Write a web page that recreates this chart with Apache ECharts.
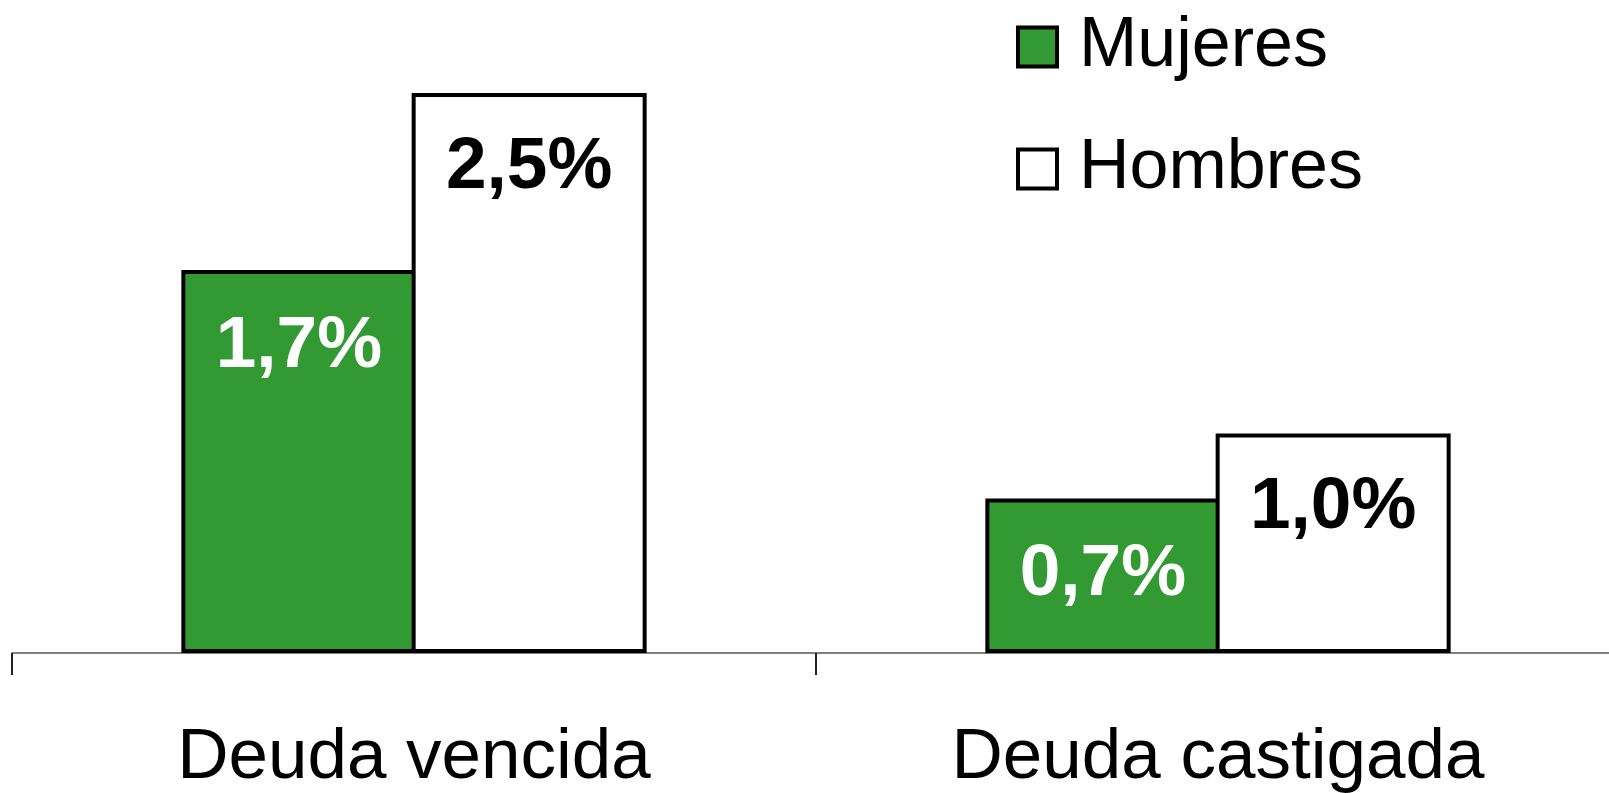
<!DOCTYPE html>
<html>
<head>
<meta charset="utf-8">
<script src="https://cdn.jsdelivr.net/npm/echarts@6/dist/echarts.min.js"></script>
<style>
  html, body { margin: 0; padding: 0; background: #fff; }
  #chart { width: 1609px; height: 793px; }
</style>
</head>
<body>
<div id="chart"></div>
<script>
// categorías y valores (%)
var categorias = ['Deuda vencida', 'Deuda castigada']
var mujeres = [1.71, 0.69]
var hombres = [2.5, 0.98]

var fuente = '"Liberation Sans", Arial, sans-serif'

function etiqueta (p) {
  return p.value.toFixed(1).replace('.', ',') + '%'
}

var myChart = echarts.init(document.getElementById('chart'))
myChart.setOption({
  animation: false,
  // el eje sigue más allá del borde derecho
  grid: { left: 12, width: 1608, top: 93, bottom: 140, outerBoundsMode: 'none' },
  legend: {
    orient: 'vertical',
    left: 1016,
    top: 12,
    padding: 0,
    itemWidth: 39,
    itemHeight: 39,
    itemGap: 52,
    icon: 'rect',
    itemStyle: { borderColor: '#000', borderWidth: 4 },
    textStyle: {
      fontFamily: fuente,
      fontSize: 70,
      color: '#000',
      lineHeight: 40,
      padding: [0, 0, 28, 17]
    },
    data: ['Mujeres', 'Hombres']
  },
  xAxis: {
    type: 'category',
    data: categorias,
    axisLine: { lineStyle: { color: '#808080', width: 2 } },
    axisTick: { show: true, length: 22, lineStyle: { color: '#222', width: 2 } },
    axisLabel: {
      margin: 70,
      fontFamily: fuente,
      fontSize: 71,
      color: '#000'
    }
  },
  yAxis: {
    type: 'value',
    min: 0,
    max: 2.5,
    show: false
  },
  series: [
    {
      name: 'Mujeres',
      type: 'bar',
      data: mujeres,
      barWidth: 235,
      barGap: '-2%',
      itemStyle: { color: '#339933', borderColor: '#000', borderWidth: 4 },
      label: {
        show: true,
        position: 'insideTop',
        distance: 40,
        formatter: etiqueta,
        fontFamily: fuente,
        fontWeight: 'bold',
        fontSize: 73,
        color: '#fff'
      }
    },
    {
      name: 'Hombres',
      type: 'bar',
      data: hombres,
      barWidth: 235,
      barGap: '-2%',
      itemStyle: { color: '#fff', borderColor: '#000', borderWidth: 4 },
      label: {
        show: true,
        position: 'insideTop',
        distance: 38,
        formatter: etiqueta,
        fontFamily: fuente,
        fontWeight: 'bold',
        fontSize: 73,
        color: '#000'
      }
    }
  ]
})
</script>
</body>
</html>
